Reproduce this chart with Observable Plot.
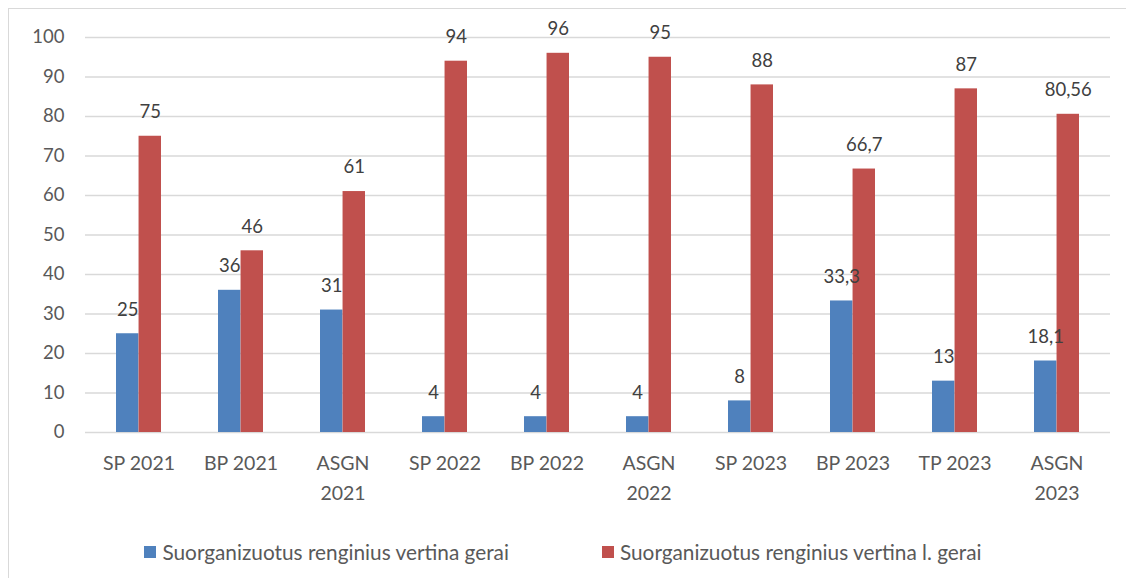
<!DOCTYPE html>
<html><head><meta charset="utf-8">
<script src="https://cdn.jsdelivr.net/npm/d3@7"></script>
<script src="https://cdn.jsdelivr.net/npm/@observablehq/plot@0.6"></script>
<style>
body{margin:0;background:#fff;font-family:Lato,"Open Sans",sans-serif;overflow:hidden;}
#frame{position:absolute;left:8px;top:8px;width:1300px;height:700px;border-left:1.5px solid #d9d9d9;border-top:1.5px solid #d9d9d9;}
#chart{position:absolute;left:0;top:0;}
#legend{position:absolute;left:0;width:1126px;top:539px;display:flex;justify-content:center;gap:93px;font-size:20.8px;color:#595959;}
#legend .item{display:flex;align-items:center;gap:6px;}
#legend .sw{width:12px;height:12px;display:inline-block;}
</style></head>
<body>
<div id="frame"></div>
<div id="chart"></div>
<div id="legend"></div>
<script>
const categories = ["SP 2021","BP 2021","ASGN 2021","SP 2022","BP 2022","ASGN 2022","SP 2023","BP 2023","TP 2023","ASGN 2023"];
const categoryLabels = ["SP 2021","BP 2021","ASGN\n2021","SP 2022","BP 2022","ASGN\n2022","SP 2023","BP 2023","TP 2023","ASGN\n2023"];
const series = ["Suorganizuotus renginius vertina gerai","Suorganizuotus renginius vertina l. gerai"];
const gerai = [25,36,31,4,4,4,8,33.3,13,18.1];
const labaiGerai = [75,46,61,94,96,95,88,66.7,87,80.56];
const yTicks = [0,10,20,30,40,50,60,70,80,90,100];
const colors = ["#4f81bd","#c0504d"];

const blueData = categories.map((c,i)=>({cat:c, s:series[0], v:gerai[i]}));
const redData = categories.map((c,i)=>({cat:c, s:series[1], v:labaiGerai[i]}));
const fmt = v => String(v).replace(".", ",");
const labelOf = c => categoryLabels[categories.indexOf(c)];

const W = 1126, mL = 85, mR = 16;
const step = (W - mL - mR) / categories.length;
const half = step * 0.44 / 2;

const chart = Plot.plot({
  width:W, height:520,
  marginLeft:mL, marginRight:mR, marginTop:37, marginBottom:88,
  style:{fontFamily:"Lato, 'Open Sans', sans-serif", fontSize:"19px", background:"transparent"},
  x:{domain:categories, paddingInner:0.56, paddingOuter:0.28, label:null},
  y:{domain:[0,100], axis:null},
  color:{domain:series, range:colors},
  marks:[
    Plot.ruleY(yTicks, {y:d=>d, stroke:"#d9d9d9", strokeWidth:1.5}),
    Plot.barY(blueData, {x:"cat", y:"v", fill:"s", insetRight:half}),
    Plot.barY(redData, {x:"cat", y:"v", fill:"s", insetLeft:half}),
    Plot.text(blueData, {x:"cat", y:"v", text:d=>fmt(d.v), dx:-half/2, dy:-24, fill:"#404040", fontSize:18.5}),
    Plot.text(redData, {x:"cat", y:"v", text:d=>fmt(d.v), dx:half/2, dy:-24, fill:"#404040", fontSize:18.5}),
    Plot.axisY(yTicks, {tickSize:0, tickPadding:21, fill:"#595959", fontSize:18.5, label:null, anchor:"left"}),
    Plot.axisX({anchor:"bottom", tickSize:0, tickPadding:17, tickFormat:labelOf, fill:"#595959", fontSize:19.5, lineHeight:1.5, label:null})
  ]
});
document.getElementById("chart").appendChild(chart);

const lg = document.getElementById("legend");
series.forEach((s,i)=>{
  const it = document.createElement("div"); it.className="item";
  const sw = document.createElement("span"); sw.className="sw"; sw.style.background=colors[i];
  const t = document.createElement("span"); t.textContent=s;
  it.appendChild(sw); it.appendChild(t); lg.appendChild(it);
});
</script>
</body></html>
